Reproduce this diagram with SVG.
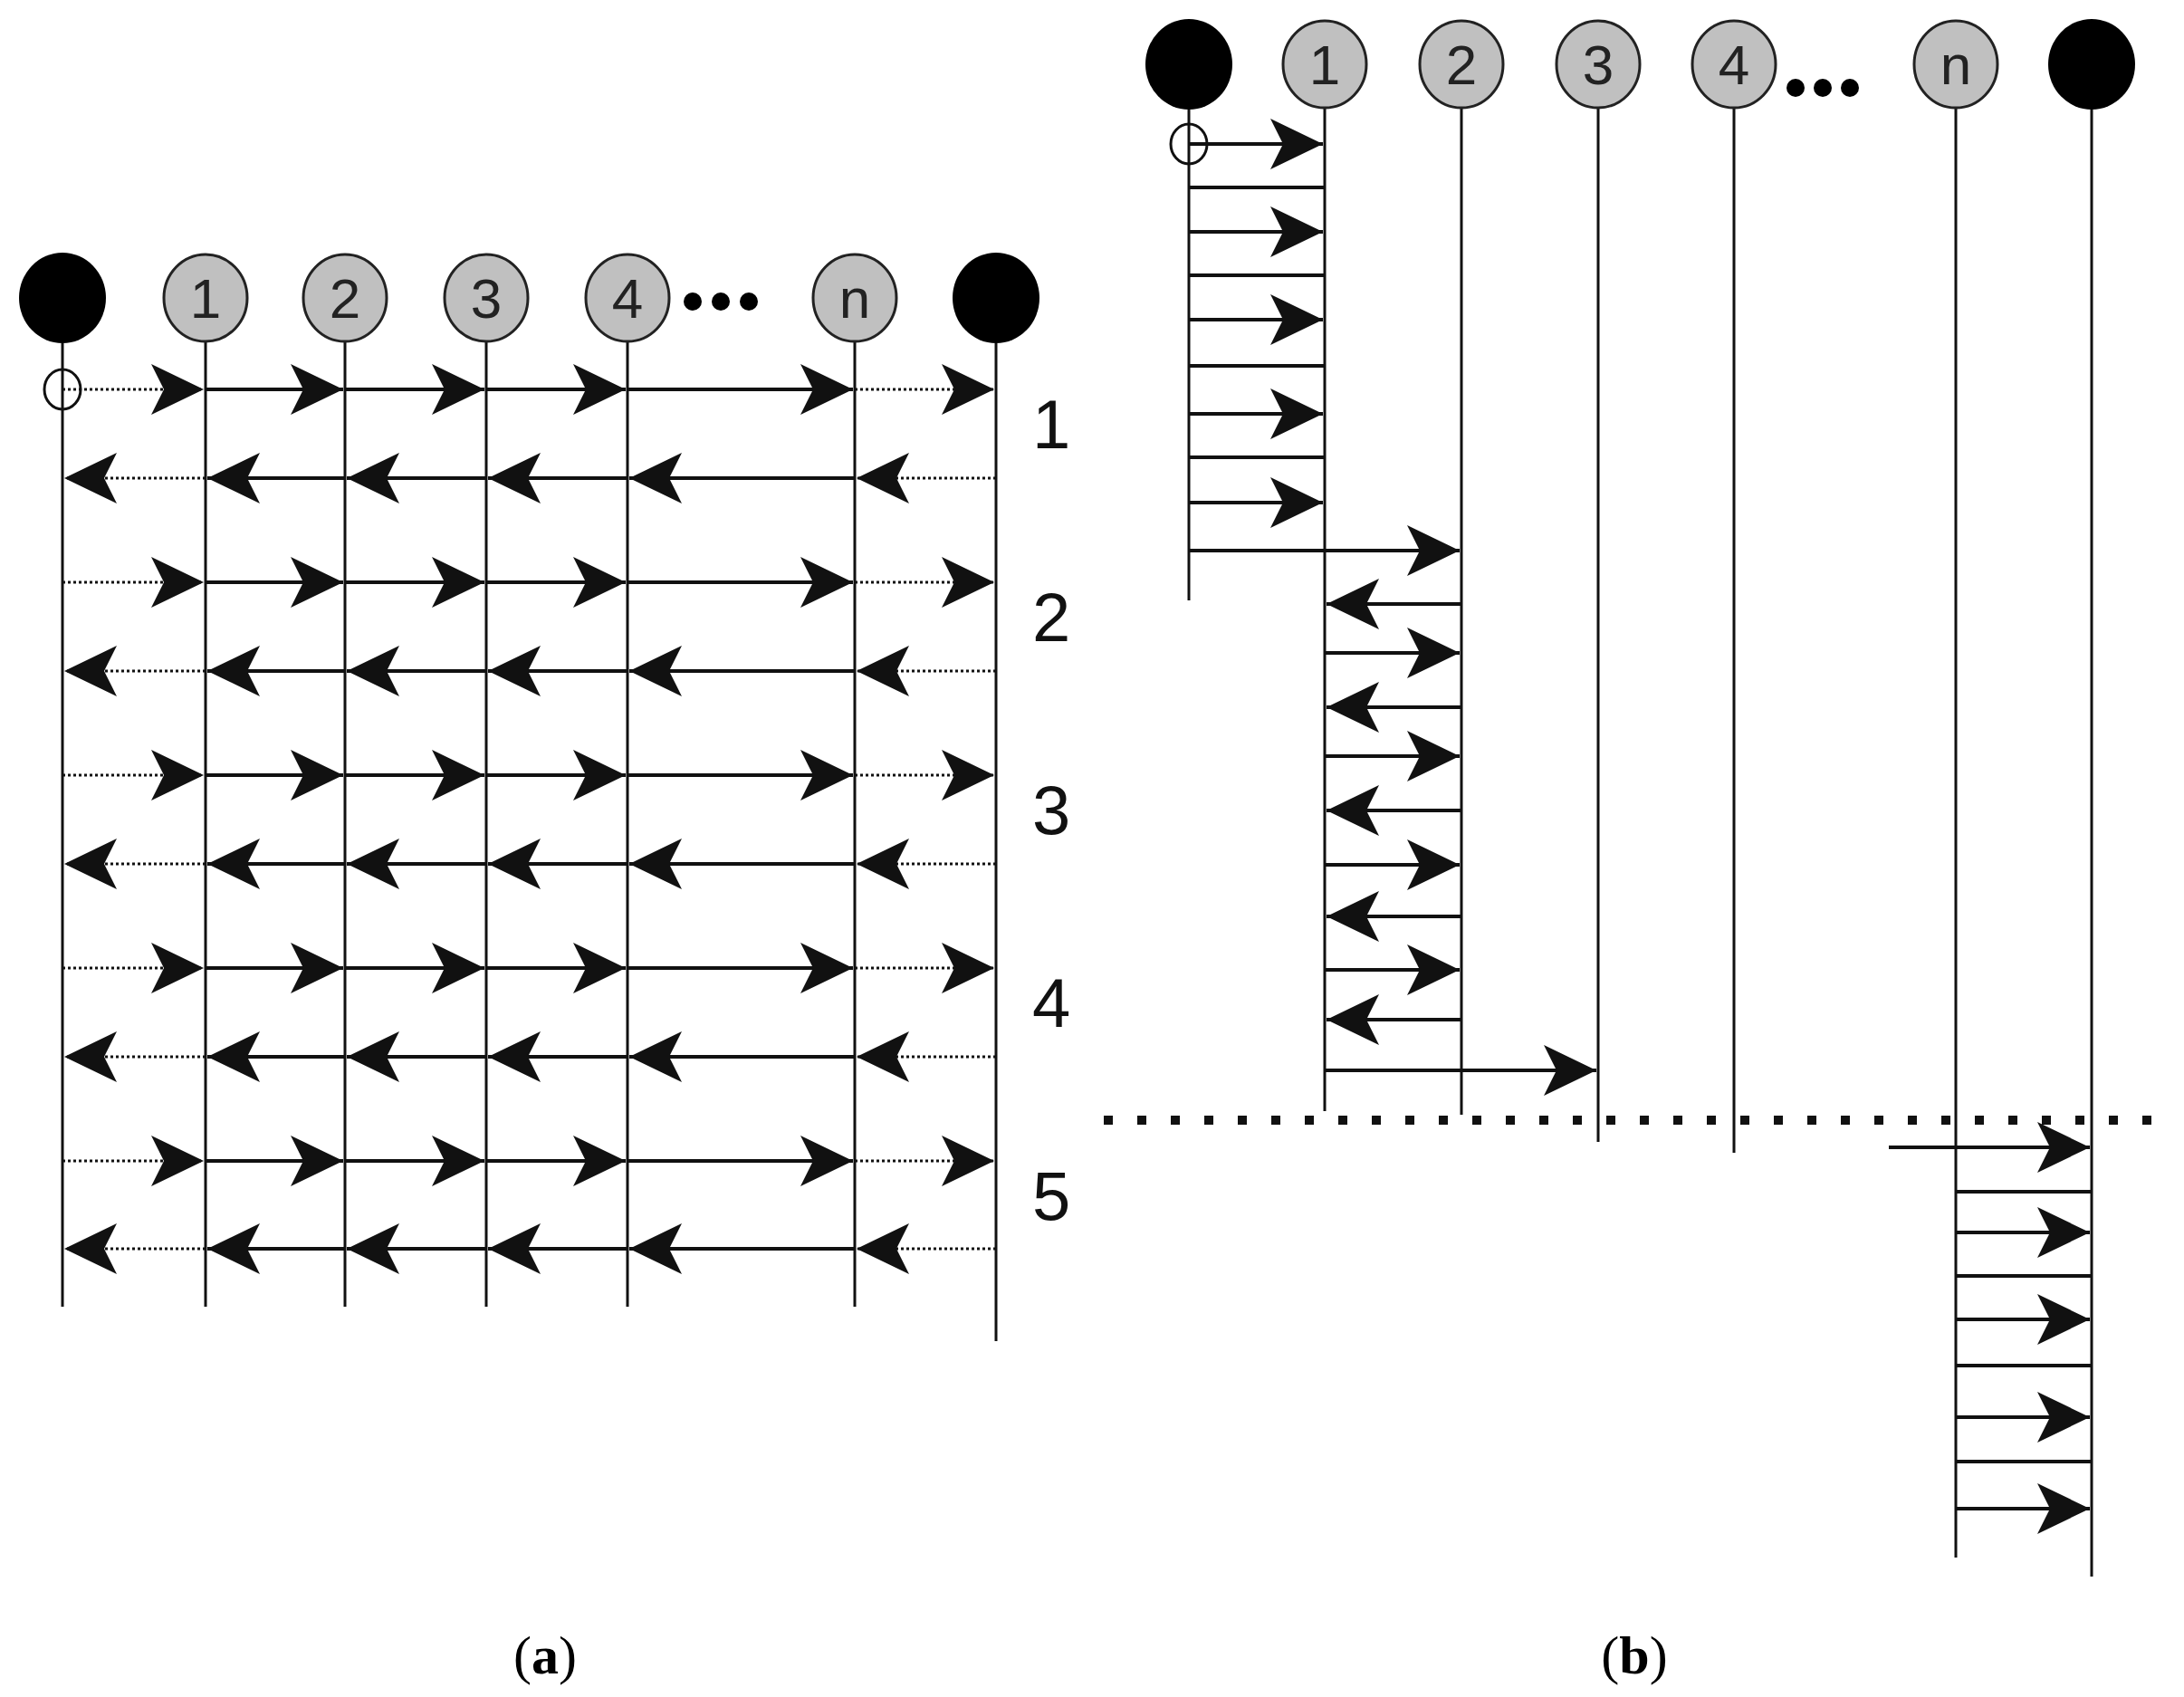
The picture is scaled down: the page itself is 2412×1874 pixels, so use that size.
<svg xmlns="http://www.w3.org/2000/svg" xmlns:xlink="http://www.w3.org/1999/xlink" width="2412" height="1874" viewBox="0 0 2412 1874">
<style>
.v{stroke:#111;stroke-width:3;fill:none}
.a{stroke:#111;stroke-width:4;fill:none;marker-end:url(#ah)}
.d{stroke:#111;stroke-width:3;fill:none;stroke-dasharray:3 3;marker-end:url(#ah)}
.h{stroke:#111;stroke-width:4;fill:none}
.blk{fill:#000}
.gr{fill:#c0c0c0;stroke:#222;stroke-width:3}
.nt{font-family:"Liberation Sans",Arial,sans-serif;font-size:62px;fill:#222;text-anchor:middle}
.rn{font-family:"Liberation Sans",Arial,sans-serif;font-size:76px;fill:#111}
.cap{font-family:"Liberation Serif","Times New Roman",serif;font-size:60px;fill:#000;text-anchor:middle}
</style>
<defs>
<marker id="ah" viewBox="-62 -32 64 64" refX="0" refY="0" markerWidth="64" markerHeight="64" markerUnits="userSpaceOnUse" orient="auto">
<path d="M0,0 L-58,-28 L-44,0 L-58,28 Z" fill="#111"/>
</marker>
<g id="rowR">
<path class="d" d="M69 0H225"/><path class="a" d="M227 0H379"/><path class="a" d="M381 0H535"/><path class="a" d="M537 0H691"/><path class="a" d="M693 0H942"/><path class="d" d="M944 0H1098"/>
</g>
<g id="rowL">
<path class="d" d="M1100 0H946"/><path class="a" d="M944 0H695"/><path class="a" d="M693 0H539"/><path class="a" d="M537 0H383"/><path class="a" d="M381 0H229"/><path class="d" d="M227 0H71"/>
</g>
</defs>
<rect width="2412" height="1874" fill="#fff"/>

<!-- Panel a -->
<g id="a-nodes">
<g id="a-s"><ellipse class="blk" cx="69" cy="329" rx="48" ry="50"/><path class="v" d="M69 379V1443"/></g>
<g id="a-1"><path class="v" d="M227 377V1443"/><ellipse class="gr" cx="227" cy="329" rx="46" ry="48"/><text class="nt" x="227" y="351">1</text></g>
<g id="a-2"><path class="v" d="M381 377V1443"/><ellipse class="gr" cx="381" cy="329" rx="46" ry="48"/><text class="nt" x="381" y="351">2</text></g>
<g id="a-3"><path class="v" d="M537 377V1443"/><ellipse class="gr" cx="537" cy="329" rx="46" ry="48"/><text class="nt" x="537" y="351">3</text></g>
<g id="a-4"><path class="v" d="M693 377V1443"/><ellipse class="gr" cx="693" cy="329" rx="46" ry="48"/><text class="nt" x="693" y="351">4</text></g>
<g id="a-n"><path class="v" d="M944 377V1443"/><ellipse class="gr" cx="944" cy="329" rx="46" ry="48"/><text class="nt" x="944" y="351">n</text></g>
<g id="a-e"><ellipse class="blk" cx="1100" cy="329" rx="48" ry="50"/><path class="v" d="M1100 379V1481"/></g>
<g id="a-dots" class="blk"><circle cx="765" cy="333" r="10"/><circle cx="796" cy="333" r="10"/><circle cx="827" cy="333" r="10"/></g>
<ellipse cx="69" cy="430" rx="20" ry="22" fill="none" stroke="#111" stroke-width="3"/>
</g>
<g id="a-connectors">
<use xlink:href="#rowR" y="430"/><use xlink:href="#rowL" y="528"/>
<use xlink:href="#rowR" y="643"/><use xlink:href="#rowL" y="741"/>
<use xlink:href="#rowR" y="856"/><use xlink:href="#rowL" y="954"/>
<use xlink:href="#rowR" y="1069"/><use xlink:href="#rowL" y="1167"/>
<use xlink:href="#rowR" y="1282"/><use xlink:href="#rowL" y="1379"/>
</g>
<g id="a-labels">
<text class="rn" x="1140" y="495">1</text>
<text class="rn" x="1140" y="708">2</text>
<text class="rn" x="1140" y="921">3</text>
<text class="rn" x="1140" y="1134">4</text>
<text class="rn" x="1140" y="1347">5</text>
</g>

<!-- Panel b -->
<g id="b-nodes">
<g id="b-s"><ellipse class="blk" cx="1313" cy="71" rx="48" ry="50"/><path class="v" d="M1313 121V663"/></g>
<g id="b-1"><path class="v" d="M1463 119V1227"/><ellipse class="gr" cx="1463" cy="71" rx="46" ry="48"/><text class="nt" x="1463" y="93">1</text></g>
<g id="b-2"><path class="v" d="M1614 119V1231"/><ellipse class="gr" cx="1614" cy="71" rx="46" ry="48"/><text class="nt" x="1614" y="93">2</text></g>
<g id="b-3"><path class="v" d="M1765 119V1261"/><ellipse class="gr" cx="1765" cy="71" rx="46" ry="48"/><text class="nt" x="1765" y="93">3</text></g>
<g id="b-4"><path class="v" d="M1915 119V1273"/><ellipse class="gr" cx="1915" cy="71" rx="46" ry="48"/><text class="nt" x="1915" y="93">4</text></g>
<g id="b-n"><path class="v" d="M2160 119V1720"/><ellipse class="gr" cx="2160" cy="71" rx="46" ry="48"/><text class="nt" x="2160" y="93">n</text></g>
<g id="b-e"><ellipse class="blk" cx="2310" cy="71" rx="48" ry="50"/><path class="v" d="M2310 121V1741"/></g>
<g id="b-dots" class="blk"><circle cx="1983" cy="97" r="10"/><circle cx="2013" cy="97" r="10"/><circle cx="2043" cy="97" r="10"/></g>
<ellipse cx="1313" cy="159" rx="20" ry="22" fill="none" stroke="#111" stroke-width="3"/>
</g>
<g id="b-connectors">
<path class="a" d="M1313 159H1461"/><path class="h" d="M1313 207H1463"/>
<path class="a" d="M1313 256H1461"/><path class="h" d="M1313 304H1463"/>
<path class="a" d="M1313 353H1461"/><path class="h" d="M1313 404H1463"/>
<path class="a" d="M1313 457H1461"/><path class="h" d="M1313 505H1463"/>
<path class="a" d="M1313 555H1461"/>
<path class="a" d="M1313 608H1612"/>
<path class="a" d="M1614 667H1465"/><path class="a" d="M1463 721H1612"/>
<path class="a" d="M1614 781H1465"/><path class="a" d="M1463 835H1612"/>
<path class="a" d="M1614 895H1465"/><path class="a" d="M1463 955H1612"/>
<path class="a" d="M1614 1012H1465"/><path class="a" d="M1463 1071H1612"/>
<path class="a" d="M1614 1126H1465"/>
<path class="a" d="M1463 1182H1763"/>
<path d="M1219 1237H2400" stroke="#111" stroke-width="10" stroke-dasharray="10 27" fill="none"/>
<path class="a" d="M2086 1267H2308"/>
<path class="h" d="M2160 1316H2310"/><path class="a" d="M2160 1361H2308"/>
<path class="h" d="M2160 1409H2310"/><path class="a" d="M2160 1457H2308"/>
<path class="h" d="M2160 1508H2310"/><path class="a" d="M2160 1565H2308"/>
<path class="h" d="M2160 1614H2310"/><path class="a" d="M2160 1666H2308"/>
</g>

<text class="cap" x="602" y="1848">(<tspan font-weight="bold">a</tspan>)</text>
<text class="cap" x="1805" y="1848">(<tspan font-weight="bold">b</tspan>)</text>
</svg>
